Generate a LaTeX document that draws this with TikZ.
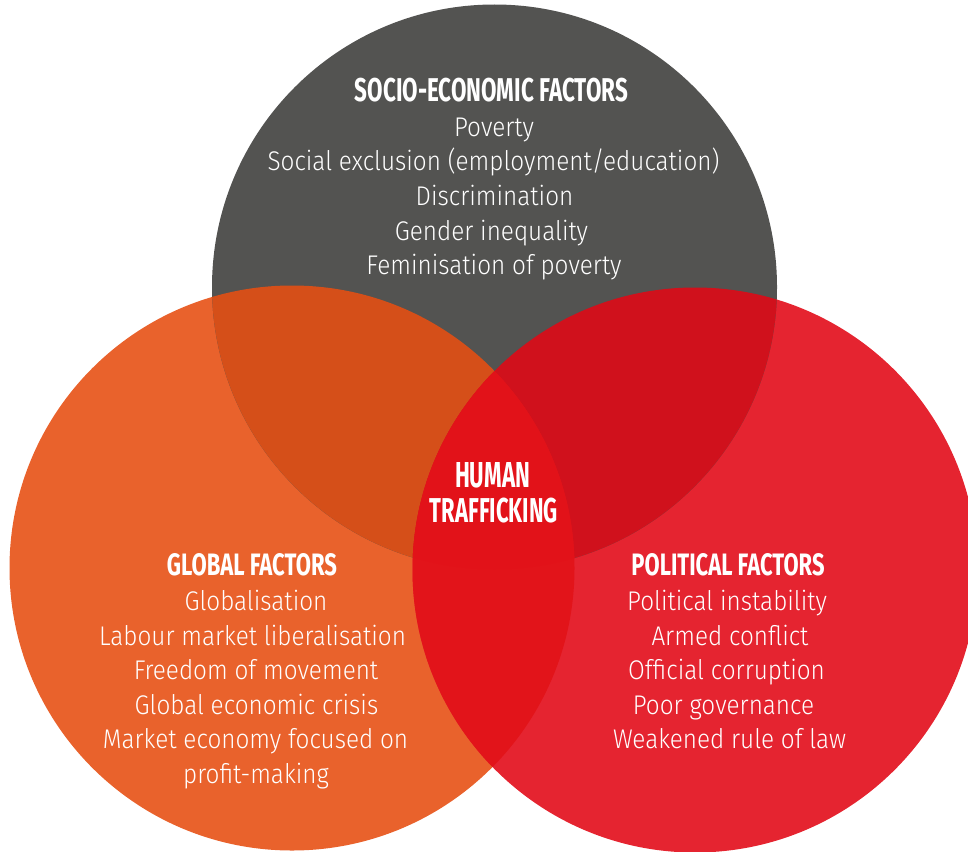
\documentclass[tikz,border=0pt]{standalone}
\usepackage{fontspec}
\usepackage{graphicx}
\setmainfont{Fira Sans}[UprightFont={* Light}, BoldFont={* Bold}, FakeStretch=0.90]
\newfontfamily\headfont{Fira Sans}[UprightFont={* Bold}]
\definecolor{cgray}{HTML}{535351}
\definecolor{corange}{HTML}{E9622C}
\definecolor{cred}{HTML}{E52430}
\definecolor{ctopleft}{HTML}{D54F19}
\definecolor{ctopright}{HTML}{D0111C}
\definecolor{cleftright}{HTML}{E2141A}
\definecolor{ccenter}{HTML}{E21219}
\tikzset{
  bodytext/.style={text=white, inner sep=0pt, anchor=base, font=\fontsize{27}{34}\selectfont},
  headtext/.style={text=white, inner sep=0pt, anchor=base, font=\headfont},
}
\newcommand{\hdbox}[3]{\resizebox{#1pt}{#2pt}{#3}}
\begin{document}
\begin{tikzpicture}[x=1pt,y=-1pt]
\useasboundingbox (0,0) rectangle (968,851);
\def\rad{282.5}
\coordinate (T) at (494.5,287);
\coordinate (L) at (292,568);
\coordinate (R) at (695,570);
% circles
\fill[corange] (L) circle[radius=\rad];
\fill[cred] (R) circle[radius=\rad];
\fill[cgray] (T) circle[radius=\rad];
\begin{scope}
  \clip (T) circle[radius=\rad];
  \fill[ctopleft] (L) circle[radius=\rad];
  \fill[ctopright] (R) circle[radius=\rad];
\end{scope}
\begin{scope}
  \clip (L) circle[radius=\rad];
  \fill[cleftright] (R) circle[radius=\rad];
\end{scope}
\begin{scope}
  \clip (L) circle[radius=\rad];
  \clip (T) circle[radius=\rad];
  \fill[ccenter] (R) circle[radius=\rad];
\end{scope}
% headers
\node[headtext] (seh) at (491.5,101.5) {\hdbox{273}{23.4}{SOCIO-ECONOMIC FACTORS}};
\node[headtext] (glh) at (252,575) {\hdbox{170}{22}{GLOBAL FACTORS}};
\node[headtext] (poh) at (728,575) {\hdbox{193}{22}{POLITICAL FACTORS}};
\node[headtext] (ht1) at (492.5,487.7) {\hdbox{75}{25}{HUMAN}};
\node[headtext] (ht2) at (494,522.7) {\hdbox{128}{24.5}{TRAFFICKING}};
% socio-economic lines
\node[bodytext] (se1) at (494,136) {Poverty};
\node[bodytext] (se2) at (493.5,170.7) {Social exclusion (employment/education)};
\node[bodytext] (se3) at (494.5,205.4) {Discrimination};
\node[bodytext] (se4) at (491.5,240) {Gender inequality};
\node[bodytext] (se5) at (494,274.8) {Feminisation of poverty};
% global lines
\node[bodytext] (gl1) at (256,610.7) {Globalisation};
\node[bodytext] (gl2) at (252.5,645.2) {Labour market liberalisation};
\node[bodytext] (gl3) at (256,679.7) {Freedom of movement};
\node[bodytext] (gl4) at (256.5,714.2) {Global economic crisis};
\node[bodytext] (gl5) at (255.5,748.7) {Market economy focused on};
\node[bodytext] (gl6) at (256,783.2) {profit-making};
% political lines
\node[bodytext] (po1) at (727,610.7) {Political instability};
\node[bodytext] (po2) at (730,645.2) {Armed conflict};
\node[bodytext] (po3) at (726.5,679.7) {Official corruption};
\node[bodytext] (po4) at (723.5,714.2) {Poor governance};
\node[bodytext] (po5) at (729.5,748.7) {Weakened rule of law};
\end{tikzpicture}
\end{document}
